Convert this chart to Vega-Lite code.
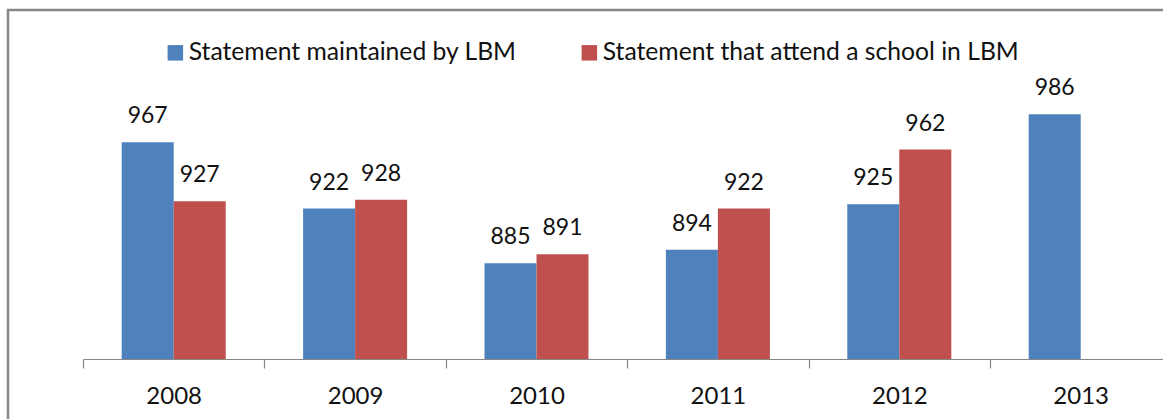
{
  "$schema": "https://vega.github.io/schema/vega-lite/v6.json",
  "width": 1157,
  "height": 411,
  "autosize": "none",
  "padding": {"left": 8, "top": 10, "right": 0, "bottom": 0},
  "background": "white",
  "config": {
    "view": {"stroke": "#878787", "strokeWidth": 2.5},
    "font": "Lato"
  },
  "data": {
    "values": [
      {"year": "2008", "series": "Statement maintained by LBM", "value": 967},
      {"year": "2008", "series": "Statement that attend a school in LBM", "value": 927},
      {"year": "2009", "series": "Statement maintained by LBM", "value": 922},
      {"year": "2009", "series": "Statement that attend a school in LBM", "value": 928},
      {"year": "2010", "series": "Statement maintained by LBM", "value": 885},
      {"year": "2010", "series": "Statement that attend a school in LBM", "value": 891},
      {"year": "2011", "series": "Statement maintained by LBM", "value": 894},
      {"year": "2011", "series": "Statement that attend a school in LBM", "value": 922},
      {"year": "2012", "series": "Statement maintained by LBM", "value": 925},
      {"year": "2012", "series": "Statement that attend a school in LBM", "value": 962},
      {"year": "2013", "series": "Statement maintained by LBM", "value": 986}
    ]
  },
  "encoding": {
    "x": {
      "field": "year",
      "type": "nominal",
      "sort": null,
      "scale": {"range": [75, 1163.4], "paddingInner": 0, "paddingOuter": 0},
      "axis": {
        "title": null,
        "orient": "bottom",
        "offset": -62,
        "domainColor": "#868686",
        "domainWidth": 1.2,
        "tickColor": "#868686",
        "tickWidth": 1.2,
        "tickSize": 9,
        "tickOffset": -90.7,
        "labelOffset": 90.7,
        "labelAngle": 0,
        "labelFont": "Lato",
        "labelFontSize": 24,
        "labelColor": "#111111",
        "labelBaseline": "alphabetic",
        "labelPadding": 35
      }
    },
    "xOffset": {
      "field": "series",
      "type": "nominal",
      "scale": {
        "domain": ["Statement maintained by LBM", "Statement that attend a school in LBM"],
        "paddingInner": 0,
        "paddingOuter": 0.744
      }
    },
    "y": {
      "field": "value",
      "type": "quantitative",
      "scale": {"domain": [820, 1000], "range": [349, 83.5], "zero": false, "nice": false},
      "axis": null
    }
  },
  "layer": [
    {
      "mark": {"type": "bar"},
      "encoding": {
        "y2": {"datum": 820},
        "color": {
          "field": "series",
          "type": "nominal",
          "scale": {
            "domain": ["Statement maintained by LBM", "Statement that attend a school in LBM"],
            "range": ["#4F81BD", "#C0504D"]
          },
          "legend": {
            "title": null,
            "orient": "none",
            "direction": "horizontal",
            "legendX": 155,
            "legendY": 30,
            "padding": 0,
            "symbolType": "square",
            "symbolSize": 240,
            "symbolStrokeWidth": 0,
            "labelFont": "Lato",
            "labelFontSize": 24.7,
            "labelColor": "#111111",
            "labelOffset": 1,
            "columnPadding": 60,
            "labelLimit": 700
          }
        }
      }
    },
    {
      "mark": {"type": "text", "baseline": "alphabetic", "dy": -19, "font": "Lato", "fontSize": 23, "color": "#111111"},
      "encoding": {
        "text": {"field": "value", "type": "quantitative"}
      }
    }
  ]
}
